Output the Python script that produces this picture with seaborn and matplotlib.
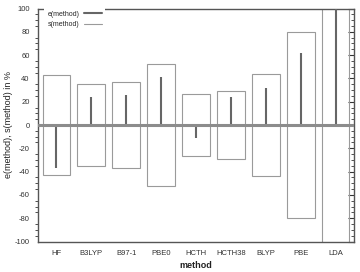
import matplotlib
matplotlib.use("Agg")
import matplotlib.pyplot as plt
from matplotlib.lines import Line2D
from matplotlib.ticker import MultipleLocator
import seaborn as sns
import pandas as pd

methods = ["HF", "B3LYP", "B97-1", "PBE0", "HCTH", "HCTH38", "BLYP", "PBE", "LDA"]
e_vals = [-37, 24, 26, 41, -11, 24, 32, 62, 115]
s_vals = [43, 35, 36.5, 52, 27, 29.5, 43.5, 79.5, 130]
yticks = [-100, -80, -60, -40, -20, 0, 20, 40, 60, 80, 100]

sns.set_style("white")
plt.rcParams["font.family"] = ["Liberation Sans", "DejaVu Sans"]
plt.rcParams["axes.unicode_minus"] = False

df = pd.DataFrame({"method": methods, "e": e_vals, "s": s_vals,
                   "neg_s": [-v for v in s_vals]})

fig = plt.figure(figsize=(3.6, 2.72), dpi=100)
ax = fig.add_axes([38 / 360, 1 - 241.5 / 272, (354 - 38) / 360, (241.5 - 8.5) / 272])

box_col = "#9a9a9a"
sns.barplot(data=df, x="method", y="s", fill=False, edgecolor=box_col,
            linewidth=0.8, width=0.8, ax=ax, errorbar=None)
sns.barplot(data=df, x="method", y="neg_s", fill=False, edgecolor=box_col,
            linewidth=0.8, width=0.8, ax=ax, errorbar=None)
ax.vlines(range(len(methods)), 0, df["e"], color="#666666", linewidth=1.5, zorder=3)
ax.axhline(0, color="#8c8c8c", linewidth=2.2, zorder=4)

ax.set_ylim(-100, 100)
ax.set_xlim(-0.53, len(methods) - 0.47)
ax.set_yticks(yticks)
ax.set_yticklabels([str(v) for v in yticks])
ax.yaxis.set_minor_locator(MultipleLocator(5))
ax.tick_params(axis="y", which="major", direction="out", length=4, width=0.8,
               labelsize=5.5, colors="#333333", pad=2, right=True)
ax.tick_params(axis="y", which="minor", direction="out", length=2, width=0.6,
               colors="#333333", right=True, left=True)
ax.tick_params(axis="x", length=0, labelsize=5.5, pad=6, colors="#333333")
for tk in ax.yaxis.get_major_ticks() + ax.yaxis.get_minor_ticks():
    tk.tick2line.set_marker(matplotlib.lines.TICKLEFT)

for sp in ax.spines.values():
    sp.set_visible(True)
    sp.set_color("#555555")
    sp.set_linewidth(1.0)

ax.set_xlabel("method", fontsize=6.5, fontweight="bold", labelpad=3, color="#222222")
ax.set_ylabel("e(method), s(method) in %", fontsize=6.5, labelpad=1, color="#222222")

handles = [Line2D([], [], color="#666666", linewidth=1.5),
           Line2D([], [], color=box_col, linewidth=0.8)]
leg = ax.legend(handles, ["e(method)", "s(method)"], loc="upper left",
                fontsize=5, markerfirst=False, frameon=True, fancybox=False,
                handlelength=2.6, handletextpad=0.6, labelspacing=0.45,
                borderpad=0.5, borderaxespad=0, bbox_to_anchor=(0.02, 1.005))
leg.get_frame().set_facecolor("white")
leg.get_frame().set_edgecolor("none")
leg.get_frame().set_alpha(1)

fig.savefig("out.png", dpi=100)
